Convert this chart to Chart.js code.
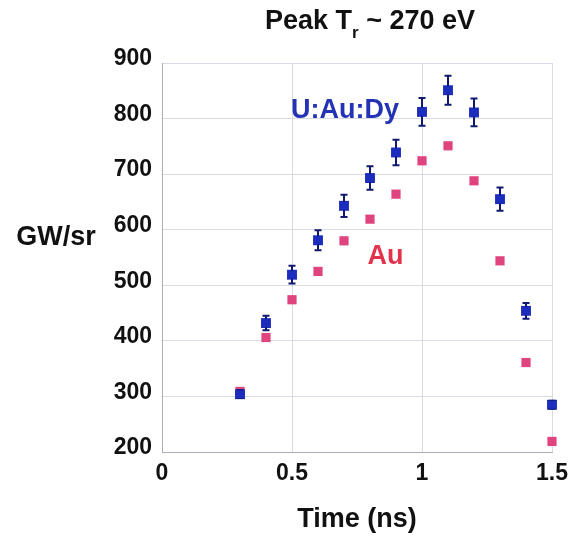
<!DOCTYPE html>
<html>
<head>
<meta charset="utf-8">
<script src="https://cdn.jsdelivr.net/npm/chart.js@4"></script>
<style>
  html, body { margin: 0; padding: 0; background: #fff; }
  #wrap { width: 573px; height: 544px; }
</style>
</head>
<body>
<div id="wrap"><canvas id="peakChart" width="573" height="544"></canvas></div>
<script>
// Time (ns) of each measurement
const times = [0.3, 0.4, 0.5, 0.6, 0.7, 0.8, 0.9, 1.0, 1.1, 1.2, 1.3, 1.4, 1.5];
// U:Au:Dy hohlraum, GW/sr, with +/- error
const uAuDy = [304, 432, 519, 581, 643, 693, 739, 812, 851, 811, 655, 454, 285];
const uAuDyErr = [7, 13, 16, 18, 20, 21, 23, 25, 26, 25, 21, 14, 7];
// Au hohlraum, GW/sr
const au = [309, 406, 474, 525, 580, 619, 664, 724, 751, 688, 544, 361, 219];
// axis ticks
const xTicks = [0, 0.5, 1, 1.5];
const yTicks = [200, 300, 400, 500, 600, 700, 800, 900];

const FONT = '"Liberation Sans", Arial, Helvetica, sans-serif';
const BLUE = '#1c2cbd';
const PINK = '#e0447f';

function toPoints(ys) {
    return times.map((t, i) => ({ x: t, y: ys[i] }));
}

// error bars for the U:Au:Dy set
const errorBars = {
    id: 'errorBars',
    afterDatasetsDraw(chart) {
        const ctx = chart.ctx;
        const xs = chart.scales.x, ys = chart.scales.y;
        ctx.save();
        ctx.strokeStyle = '#111a6e';
        ctx.lineWidth = 2;
        times.forEach((t, i) => {
            const px = xs.getPixelForValue(t);
            const top = ys.getPixelForValue(uAuDy[i] + uAuDyErr[i]);
            const bot = ys.getPixelForValue(uAuDy[i] - uAuDyErr[i]);
            ctx.beginPath();
            ctx.moveTo(px, top); ctx.lineTo(px, bot);
            ctx.moveTo(px - 3.5, top); ctx.lineTo(px + 3.5, top);
            ctx.moveTo(px - 3.5, bot); ctx.lineTo(px + 3.5, bot);
            ctx.stroke();
        });
        // marker again on top of the bar
        ctx.fillStyle = BLUE;
        times.forEach((t, i) => {
            const px = xs.getPixelForValue(t), py = ys.getPixelForValue(uAuDy[i]);
            ctx.fillRect(px - 4, py - 4, 8, 8);
        });
        ctx.restore();
    }
};

// title with subscript, horizontal y label and series names
const labels = {
    id: 'labels',
    afterDraw(chart) {
        const ctx = chart.ctx;
        const xs = chart.scales.x, ys = chart.scales.y;
        ctx.save();
        ctx.textBaseline = 'middle';

        // title: Peak T_r ~ 270 eV
        const big = 'bold 27px ' + FONT, small = 'bold 17px ' + FONT;
        const a = 'Peak T', b = 'r', c = ' ~ 270 eV';
        ctx.font = big; const wa = ctx.measureText(a).width, wc = ctx.measureText(c).width;
        ctx.font = small; const wb = ctx.measureText(b).width;
        let x = 370 - (wa + wb + wc) / 2;
        ctx.fillStyle = '#111';
        ctx.textAlign = 'left';
        ctx.font = big; ctx.fillText(a, x, 22); x += wa;
        ctx.font = small; ctx.fillText(b, x, 33); x += wb;
        ctx.font = big; ctx.fillText(c, x, 22);

        ctx.textAlign = 'center';
        ctx.font = 'bold 27px ' + FONT;
        ctx.fillText('GW/sr', 56, 238);

        ctx.font = 'bold 27px ' + FONT;
        ctx.fillStyle = '#2432b5';
        ctx.fillText('U:Au:Dy', xs.getPixelForValue(0.704), ys.getPixelForValue(815));
        ctx.fillStyle = '#e3334c';
        ctx.fillText('Au', xs.getPixelForValue(0.86), ys.getPixelForValue(551));
        ctx.restore();
    }
};

const ctx = document.getElementById('peakChart').getContext('2d');
new Chart(ctx, {
    type: 'scatter',
    data: {
        datasets: [
            {
                label: 'U:Au:Dy',
                data: toPoints(uAuDy),
                pointStyle: 'rect',
                pointRadius: 7,
                pointHoverRadius: 7,
                backgroundColor: BLUE,
                borderColor: BLUE,
                borderWidth: 0,
                clip: false
            },
            {
                label: 'Au',
                data: toPoints(au),
                pointStyle: 'rect',
                pointRadius: 6.5,
                pointHoverRadius: 6.5,
                backgroundColor: PINK,
                borderColor: PINK,
                borderWidth: 0,
                clip: false
            }
        ]
    },
    options: {
        responsive: false,
        animation: false,
        layout: { padding: { top: 63, right: 21, left: 0, bottom: 0 } },
        plugins: {
            legend: { display: false },
            tooltip: { enabled: false }
        },
        scales: {
            x: {
                type: 'linear',
                min: 0,
                max: 1.5,
                afterFit(scale) { scale.height = 92; scale.paddingRight = 0; scale.paddingLeft = 0; },
                afterBuildTicks(scale) { scale.ticks = xTicks.map(v => ({ value: v })); },
                grid: { color: '#d9dae3', drawTicks: false },
                border: { color: '#a9abb5' },
                ticks: {
                    padding: 8,
                    color: '#111',
                    font: { family: FONT, size: 23, weight: 'bold' },
                    callback: v => String(v)
                },
                title: {
                    display: true,
                    text: 'Time (ns)',
                    color: '#111',
                    font: { family: FONT, size: 27, weight: 'bold' },
                    padding: { top: 8, bottom: 8 }
                }
            },
            y: {
                min: 200,
                max: 900,
                afterFit(scale) { scale.width = 162; scale.paddingTop = 0; scale.paddingBottom = 0; },
                afterBuildTicks(scale) { scale.ticks = yTicks.map(v => ({ value: v })); },
                grid: { color: '#d9dae3', drawTicks: false },
                border: { color: '#a9abb5' },
                ticks: {
                    padding: 10,
                    labelOffset: -4,
                    color: '#111',
                    font: { family: FONT, size: 23, weight: 'bold' }
                }
            }
        }
    },
    plugins: [errorBars, labels]
});
</script>
</body>
</html>
